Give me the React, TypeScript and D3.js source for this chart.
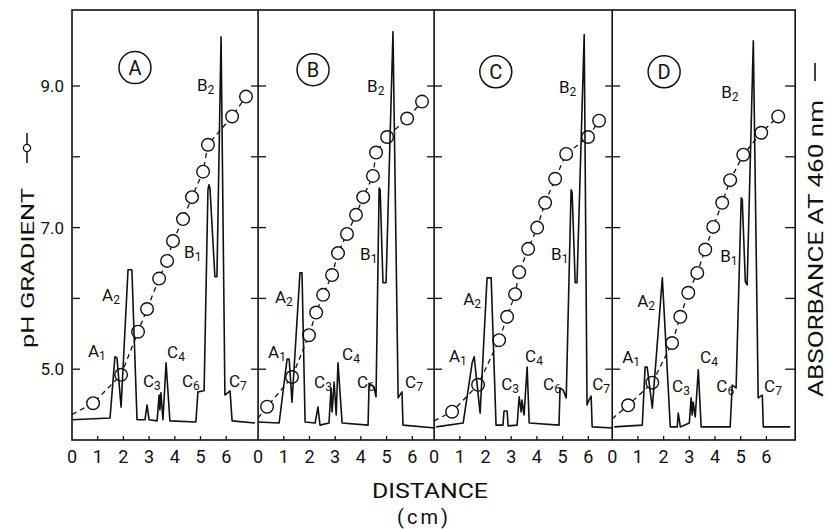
import React from 'react'
import * as d3 from 'd3'

// panel layout (pixels)
const PX_PER_CM = 25.7
const FRAME_LEFT = 72
const PLOT_TOP = 10
const PLOT_BOTTOM = 440

const FONT = "Roboto, 'Liberation Sans', sans-serif"

// data
const panelNames = ['A', 'B', 'C', 'D']
const panelSpanCm = [7.24, 6.85, 6.93, 7.12]
const distanceTicks = [0, 1, 2, 3, 4, 5, 6]
const phTicks = [5, 6, 7, 8, 9]
const phLabelTicks = [5, 7, 9]

// absorbance traces [cm, A460]
const traceA = [
  [0, 0.057], [1.48, 0.062], [1.67, 0.235], [1.75, 0.232], [1.91, 0.093], [2.18, 0.481], [2.33, 0.481],
  [2.53, 0.057], [2.84, 0.057], [2.92, 0.099], [3.0, 0.057], [3.31, 0.054], [3.39, 0.127], [3.42, 0.085],
  [3.46, 0.133], [3.54, 0.057], [3.66, 0.218], [3.81, 0.054], [4.82, 0.051], [4.9, 0.136], [5.14, 0.139],
  [5.29, 0.707], [5.33, 0.721], [5.37, 0.71], [5.56, 0.461], [5.64, 0.461], [5.8, 1.139], [5.95, 0.127],
  [6.15, 0.139], [6.23, 0.054], [7.12, 0.048],
]
const traceB = [
  [0, 0.051], [0.82, 0.048], [1.13, 0.229], [1.21, 0.229], [1.32, 0.107], [1.63, 0.472], [1.71, 0.472],
  [1.83, 0.051], [2.22, 0.048], [2.33, 0.093], [2.41, 0.042], [2.76, 0.048], [2.84, 0.147], [2.88, 0.079],
  [2.96, 0.164], [3.04, 0.071], [3.11, 0.218], [3.27, 0.048], [4.28, 0.042], [4.32, 0.161], [4.51, 0.15],
  [4.59, 0.122], [4.71, 0.712], [4.75, 0.707], [4.86, 0.444], [4.98, 0.444], [5.25, 1.153], [5.45, 0.119],
  [5.6, 0.136], [5.64, 0.042], [6.89, 0.034],
]
const traceC = [
  [0.08, 0.037], [1.13, 0.048], [1.48, 0.218], [1.56, 0.235], [1.79, 0.076], [2.06, 0.458], [2.22, 0.458],
  [2.41, 0.042], [2.68, 0.042], [2.72, 0.082], [2.84, 0.082], [2.88, 0.04], [3.23, 0.042], [3.31, 0.122],
  [3.39, 0.079], [3.42, 0.113], [3.5, 0.071], [3.62, 0.206], [3.7, 0.048], [4.86, 0.042], [4.9, 0.147],
  [5.02, 0.141], [5.14, 0.119], [5.33, 0.707], [5.37, 0.7], [5.49, 0.444], [5.56, 0.444], [5.84, 1.145],
  [5.95, 0.099], [6.03, 0.113], [6.11, 0.124], [6.15, 0.037], [6.96, 0.034],
]
const traceD = [
  [0.08, 0.037], [1.17, 0.042], [1.28, 0.206], [1.36, 0.206], [1.56, 0.09], [1.95, 0.458], [2.26, 0.037],
  [2.53, 0.037], [2.57, 0.076], [2.65, 0.037], [3.0, 0.048], [3.07, 0.119], [3.11, 0.071], [3.15, 0.107],
  [3.23, 0.065], [3.35, 0.198], [3.46, 0.037], [4.59, 0.037], [4.67, 0.155], [4.82, 0.147], [5.02, 0.684],
  [5.06, 0.68], [5.18, 0.447], [5.25, 0.438], [5.49, 1.128], [5.68, 0.119], [5.84, 0.127], [5.88, 0.037],
  [6.93, 0.037],
]

// pH gradient fractions [cm, pH]
const phA = [
  [0.82, 4.52], [1.91, 4.92], [2.57, 5.53], [2.92, 5.85], [3.39, 6.28], [3.7, 6.53], [3.93, 6.81],
  [4.32, 7.12], [4.67, 7.43], [5.1, 7.79], [5.29, 8.17], [6.23, 8.57], [6.77, 8.85],
]
const phB = [
  [0.35, 4.47], [1.32, 4.89], [1.98, 5.48], [2.26, 5.8], [2.53, 6.05], [2.88, 6.33], [3.11, 6.64],
  [3.46, 6.91], [3.81, 7.18], [4.09, 7.43], [4.47, 7.73], [4.59, 8.06], [5.02, 8.28], [5.8, 8.54], [6.38, 8.78],
]
const phC = [
  [0.7, 4.4], [1.71, 4.78], [2.53, 5.41], [2.84, 5.74], [3.15, 6.06], [3.31, 6.37], [3.66, 6.7],
  [4.01, 7.0], [4.32, 7.35], [4.71, 7.69], [5.14, 8.04], [5.99, 8.28], [6.42, 8.51],
]
const phD = [
  [0.62, 4.49], [1.56, 4.81], [2.33, 5.37], [2.65, 5.74], [2.96, 6.08], [3.31, 6.36], [3.62, 6.69],
  [3.93, 7.01], [4.28, 7.35], [4.59, 7.67], [5.1, 8.03], [5.8, 8.34], [6.46, 8.57],
]
const phStart = [4.36, 4.31, 4.27, 4.3]

// peak labels [letter, subscript, cm, A460]
const peaksA = [
  ['A', '1', 0.62, 0.235], ['A', '2', 1.17, 0.393], ['C', '3', 2.76, 0.15], ['C', '4', 3.7, 0.232],
  ['C', '6', 4.28, 0.15], ['C', '7', 6.11, 0.15], ['B', '1', 4.36, 0.514], ['B', '2', 4.86, 0.987],
]
const peaksB = [
  ['A', '1', 0.39, 0.232], ['A', '2', 0.66, 0.387], ['C', '3', 2.18, 0.147], ['C', '4', 3.27, 0.226],
  ['C', '6', 3.85, 0.147], ['C', '7', 5.72, 0.147], ['B', '1', 3.97, 0.509], ['B', '2', 4.24, 0.984],
]
const peaksC = [
  ['A', '1', 0.58, 0.22], ['A', '2', 1.13, 0.382], ['C', '3', 2.61, 0.141], ['C', '4', 3.54, 0.22],
  ['C', '6', 4.24, 0.141], ['C', '7', 6.15, 0.141], ['B', '1', 4.55, 0.509], ['B', '2', 4.86, 0.981],
]
const peaksD = [
  ['A', '1', 0.39, 0.218], ['A', '2', 0.97, 0.376], ['C', '3', 2.33, 0.136], ['C', '4', 3.42, 0.218],
  ['C', '6', 4.05, 0.136], ['C', '7', 5.91, 0.136], ['B', '1', 4.2, 0.503], ['B', '2', 4.24, 0.967],
]
// circled panel letter [cm, A460]
const badgePos = [[2.45, 1.052], [2.14, 1.046], [2.4, 1.04], [2.02, 1.04]]

const traces = [traceA, traceB, traceC, traceD]
const phs = [phA, phB, phC, phD]
const peaks = [peaksA, peaksB, peaksC, peaksD]

const yPH = d3.scaleLinear().domain([4, 9]).range([PLOT_BOTTOM, 86])
const yAbs = d3.scaleLinear().domain([0, 1]).range([PLOT_BOTTOM, 86])

const Panel = ({i, left}) => {
  const span = panelSpanCm[i]
  const right = left + span * PX_PER_CM
  const x = d3.scaleLinear().domain([0, span]).range([left, right])

  const absLine = d3.line().x(d => x(d[0])).y(d => yAbs(d[1]))
  const phLine = d3.line().x(d => x(d[0])).y(d => yPH(d[1]))
  const phPts = [[0, phStart[i]], ...phs[i]]

  return (
    <g>
      <path d={phLine(phPts)} fill="none" stroke="#111" strokeWidth={1.3} strokeDasharray="5,4" />
      {phs[i].map((d, k) => (
        <circle key={k} cx={x(d[0])} cy={yPH(d[1])} r={6.3} fill="white" stroke="#111" strokeWidth={1.4} />
      ))}
      <path d={absLine(traces[i])} fill="none" stroke="#111" strokeWidth={1.6} strokeLinejoin="round" />

      {distanceTicks.filter(t => t > 0).map(t => (
        <line key={t} x1={x(t)} x2={x(t)} y1={PLOT_BOTTOM} y2={PLOT_BOTTOM - 4} stroke="#111" strokeWidth={1.3} />
      ))}
      {distanceTicks.map(t => (
        <text key={t} x={x(t)} y={463} textAnchor="middle" fontSize={18} fontFamily={FONT} fill="#111">{t}</text>
      ))}

      {peaks[i].map((p, k) => (
        <text key={k} x={x(p[2])} y={yAbs(p[3])} fontSize={17} fontFamily={FONT} fill="#111">
          {p[0]}<tspan fontSize={12} dy={3}>{p[1]}</tspan>
        </text>
      ))}

      <circle cx={x(badgePos[i][0])} cy={yAbs(badgePos[i][1])} r={16} fill="none" stroke="#111" strokeWidth={1.5} />
      <text x={x(badgePos[i][0])} y={yAbs(badgePos[i][1]) + 7} textAnchor="middle" fontSize={20} fontFamily={FONT} fill="#111">
        {panelNames[i]}
      </text>
    </g>
  )
}

const App = () => {
  const lefts = panelSpanCm.map((s, i) => FRAME_LEFT + d3.sum(panelSpanCm.slice(0, i)) * PX_PER_CM)
  const frameRight = FRAME_LEFT + d3.sum(panelSpanCm) * PX_PER_CM
  const borders = [...lefts, frameRight]

  return (
    <svg width={831} height={529} style={{position: 'absolute', left: 0, top: 0, background: 'white'}}>
      <rect x={0} y={0} width={831} height={529} fill="white" />
      {panelNames.map((n, i) => <Panel key={n} i={i} left={lefts[i]} />)}

      <rect x={FRAME_LEFT} y={PLOT_TOP} width={frameRight - FRAME_LEFT} height={PLOT_BOTTOM - PLOT_TOP}
        fill="none" stroke="#111" strokeWidth={1.6} />
      {lefts.slice(1).map((bx, k) => (
        <line key={k} x1={bx} x2={bx} y1={PLOT_TOP} y2={PLOT_BOTTOM} stroke="#111" strokeWidth={1.6} />
      ))}

      {/* ticks on the borders */}
      {borders.map((bx, k) => {
        const last = k === borders.length - 1
        const a = k === 0 ? 0 : -7
        const b = last ? -10 : 8
        return (
          <g key={k}>
            {phTicks.map(t => (
              <line key={t} x1={last ? bx : bx + a} x2={bx + b} y1={yPH(t)} y2={yPH(t)} stroke="#111" strokeWidth={1.3} />
            ))}
          </g>
        )
      })}

      {phLabelTicks.map(t => (
        <text key={t} x={64} y={yPH(t) + 6} textAnchor="end" fontSize={17} fontFamily={FONT} fill="#111">
          {d3.format('.1f')(t)}
        </text>
      ))}

      {/* left axis title */}
      <g transform="translate(34,348) rotate(-90)">
        <text x={0} y={0} fontSize={19} fontFamily={FONT} fill="#111" textLength={160} lengthAdjust="spacingAndGlyphs">
          pH  GRADIENT
        </text>
        <line x1={185} x2={215} y1={-7} y2={-7} stroke="#111" strokeWidth={1.5} />
        <circle cx={200} cy={-7} r={3.6} fill="white" stroke="#111" strokeWidth={1.3} />
      </g>

      {/* right axis title */}
      <g transform="translate(823,397) rotate(-90)">
        <text x={0} y={0} fontSize={21} fontFamily={FONT} fill="#111" textLength={297} lengthAdjust="spacingAndGlyphs">
          ABSORBANCE  AT  460 nm
        </text>
        <line x1={316} x2={334} y1={-8} y2={-8} stroke="#111" strokeWidth={1.6} />
      </g>

      <text x={430} y={498} textAnchor="middle" fontSize={21} fontFamily={FONT} fill="#111" textLength={116} lengthAdjust="spacingAndGlyphs">
        DISTANCE
      </text>
      <text x={424} y={524} textAnchor="middle" fontSize={20} fontFamily={FONT} fill="#111" letterSpacing={3}>
        (cm)
      </text>
    </svg>
  )
}

export default App
